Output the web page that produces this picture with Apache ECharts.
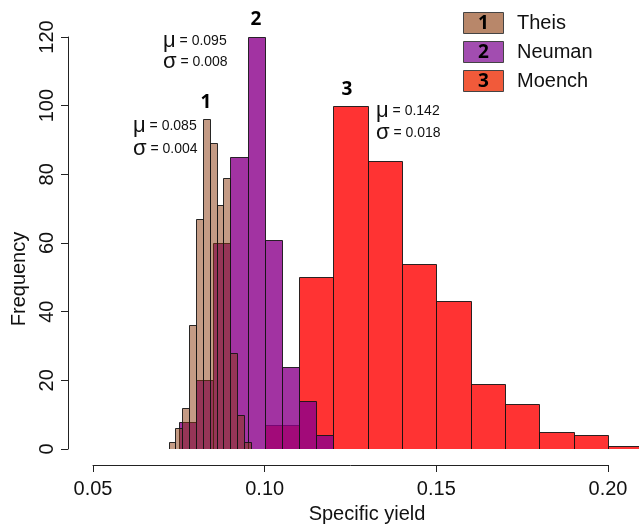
<!DOCTYPE html>
<html>
<head>
<meta charset="utf-8">
<script src="https://cdn.jsdelivr.net/npm/echarts@6/dist/echarts.min.js"></script>
<style>
  html, body { margin: 0; padding: 0; background: #fff; }
  #chart { width: 639px; height: 524px; }
</style>
</head>
<body>
<div id="chart"></div>
<script>
// Histogram breaks (bin edges) and counts for each specific-yield estimate
const theisBreaks = [0.072, 0.074, 0.076, 0.078, 0.080, 0.082, 0.084, 0.086, 0.088, 0.090, 0.092, 0.094, 0.096];
const theisCounts = [2, 6, 12, 36, 67, 96, 89, 71, 79, 28, 10, 2];

const neumanBreaks = [0.075, 0.080, 0.085, 0.090, 0.095, 0.100, 0.105, 0.110, 0.115, 0.120];
const neumanCounts = [8, 20, 60, 85, 120, 61, 24, 14, 4];

const moenchBreaks = [0.10, 0.11, 0.12, 0.13, 0.14, 0.15, 0.16, 0.17, 0.18, 0.19, 0.20, 0.21];
const moenchCounts = [7, 50, 100, 84, 54, 43, 19, 13, 5, 4, 1];

const xTicks = [0.05, 0.10, 0.15, 0.20];
const yTicks = [0, 20, 40, 60, 80, 100, 120];

const seriesNames = ['Theis', 'Neuman', 'Moench'];
const seriesStats = [
  { mu: '0.085', sigma: '0.004' },
  { mu: '0.095', sigma: '0.008' },
  { mu: '0.142', sigma: '0.018' }
];

function toBins(breaks, counts) {
  return counts.map((c, i) => [breaks[i], breaks[i + 1], c]);
}

const FONT = '"Liberation Sans", Arial, Helvetica, sans-serif';

function histRender(fill) {
  return function (params, api) {
    const p0 = api.coord([api.value(0), 0]);
    const p1 = api.coord([api.value(1), api.value(2)]);
    const x0 = Math.round(p0[0]) + 0.5;
    const x1 = Math.round(p1[0]) + 0.5;
    const yb = Math.round(p0[1]) + 0.5;
    const yt = Math.round(p1[1]) + 0.5;
    return {
      type: 'rect',
      shape: { x: x0, y: yt, width: x1 - x0, height: yb - yt },
      style: { fill: fill, stroke: 'rgba(20,20,20,0.9)', lineWidth: 1 }
    };
  };
}

function histSeries(name, breaks, counts, fill) {
  return {
    name: name,
    type: 'custom',
    xAxisIndex: 0,
    yAxisIndex: 0,
    clip: true,
    renderItem: histRender(fill),
    encode: { x: [0, 1], y: 2 },
    data: toBins(breaks, counts)
  };
}

function statText(x, y, sym, val) {
  return {
    type: 'text',
    x: x, y: y,
    style: {
      text: '{s|' + sym + '}{v| = ' + val + '}',
      verticalAlign: 'middle',
      rich: {
        s: { fontFamily: FONT, fontSize: 22, fill: '#111', verticalAlign: 'middle' },
        v: { fontFamily: FONT, fontSize: 14, fill: '#111', verticalAlign: 'middle' }
      }
    }
  };
}

function tagText(x, y, t) {
  return {
    type: 'text', x: x, y: y,
    style: {
      text: t, fontFamily: '"Open Sans", sans-serif', fontWeight: 'bold',
      fontSize: 19, fill: '#000', align: 'center', verticalAlign: 'middle'
    }
  };
}

const legendColors = ['#B8876A', '#A24DB0', '#F15A3A'];
const legendRows = [23, 52, 81];
const legendGraphics = [];
seriesNames.forEach((n, i) => {
  const cy = legendRows[i];
  legendGraphics.push({
    type: 'rect',
    shape: { x: 463.5, y: cy - 10.5, width: 40, height: 21 },
    style: { fill: legendColors[i], stroke: '#444', lineWidth: 1 }
  });
  legendGraphics.push(tagText(483.5, cy + 1, String(i + 1)));
  legendGraphics.push({
    type: 'text', x: 517, y: cy,
    style: { text: n, fontFamily: FONT, fontSize: 20, fill: '#111', verticalAlign: 'middle' }
  });
});

const chart = echarts.init(document.getElementById('chart'), null, { renderer: 'canvas' });

chart.setOption({
  animation: false,
  backgroundColor: '#fff',
  grid: [
    { left: 68, right: 0, top: 37, bottom: 75 },
    { left: 93, width: 515, top: 464, height: 1 }
  ],
  xAxis: [
    { gridIndex: 0, type: 'value', min: 0.04272, max: 0.20900, show: false },
    {
      gridIndex: 1, type: 'value', min: xTicks[0], max: xTicks[xTicks.length - 1],
      interval: 0.05,
      axisLine: { show: true, lineStyle: { color: '#222', width: 1 } },
      axisTick: { show: true, length: 7, lineStyle: { color: '#222' } },
      splitLine: { show: false },
      axisLabel: {
        margin: 14, fontFamily: FONT, fontSize: 20, color: '#111',
        formatter: v => v.toFixed(2)
      }
    }
  ],
  yAxis: [
    {
      gridIndex: 0, type: 'value', min: yTicks[0], max: yTicks[yTicks.length - 1],
      interval: 20,
      axisLine: { show: true, lineStyle: { color: '#222', width: 1 } },
      axisTick: { show: true, length: 7, lineStyle: { color: '#222' } },
      splitLine: { show: false },
      axisLabel: { rotate: 90, margin: 11, fontFamily: FONT, fontSize: 20, color: '#111' }
    },
    { gridIndex: 1, type: 'value', min: 0, max: 1, show: false }
  ],
  series: [
    histSeries('Moench', moenchBreaks, moenchCounts, 'rgba(255,0,0,0.8)'),
    histSeries('Neuman', neumanBreaks, neumanCounts, 'rgba(139,0,139,0.8)'),
    histSeries('Theis', theisBreaks, theisCounts, 'rgba(137,55,12,0.5)')
  ],
  graphic: [
    // axis titles
    {
      type: 'text', x: 367, y: 514,
      style: { text: 'Specific yield', fontFamily: FONT, fontSize: 20, fill: '#111', align: 'center', verticalAlign: 'middle' }
    },
    {
      type: 'text', x: 19, y: 279, rotation: Math.PI / 2,
      style: { text: 'Frequency', fontFamily: FONT, fontSize: 20, fill: '#111', align: 'center', verticalAlign: 'middle' }
    },
    // series tags and summary statistics
    tagText(206, 103, '1'),
    statText(133, 126, 'μ', seriesStats[0].mu),
    statText(133, 149, 'σ', seriesStats[0].sigma),
    tagText(256, 20, '2'),
    statText(163, 41, 'μ', seriesStats[1].mu),
    statText(163, 62, 'σ', seriesStats[1].sigma),
    tagText(347, 90, '3'),
    statText(376, 111, 'μ', seriesStats[2].mu),
    statText(376, 133, 'σ', seriesStats[2].sigma)
  ].concat(legendGraphics)
});
</script>
</body>
</html>
